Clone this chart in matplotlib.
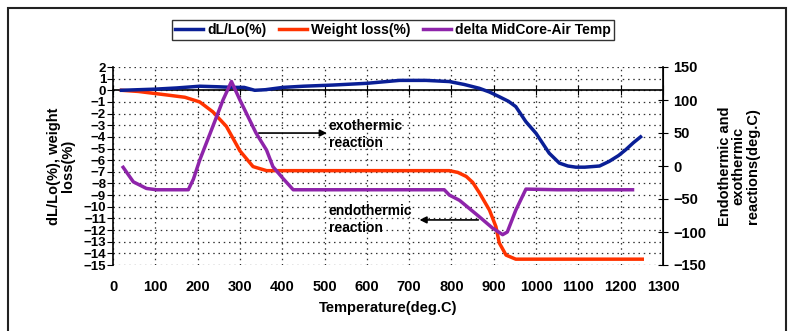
import matplotlib
matplotlib.use("Agg")
import matplotlib.pyplot as plt
from matplotlib.patches import Rectangle

plt.rcParams['font.family'] = ['Liberation Sans', 'DejaVu Sans']
plt.rcParams['font.weight'] = 'bold'

# dL/Lo (%) - left axis
dl_temp = [20, 60, 100, 150, 205, 250, 284, 310, 335, 360, 402, 450, 520, 600, 677, 740, 795, 830, 866, 890,
           913, 935, 952, 976, 1000, 1031, 1055, 1075, 1094, 1115, 1133, 1150, 1173, 1195, 1212, 1230, 1247]
dl_val = [0.0, 0.05, 0.1, 0.2, 0.35, 0.3, 0.25, 0.25, 0.0, 0.05, 0.25, 0.35, 0.45, 0.6, 0.85, 0.85, 0.75, 0.5, 0.17, -0.15,
          -0.55, -0.95, -1.4, -2.7, -3.7, -5.4, -6.25, -6.5, -6.6, -6.6, -6.55, -6.5, -6.1, -5.6, -5.1, -4.5, -4.0]

# Weight loss (%) - left axis
wl_temp = [20, 60, 127, 170, 205, 236, 268, 300, 331, 363, 400, 500, 600, 700, 795, 815, 835, 850, 866, 890,
           905, 913, 929, 952, 1000, 1100, 1200, 1251]
wl_val = [0.0, -0.1, -0.4, -0.6, -1.0, -1.85, -3.1, -5.2, -6.55, -6.9, -6.9, -6.9, -6.9, -6.9, -6.9, -7.05, -7.4, -7.9, -8.8, -10.3,
          -11.7, -13.1, -14.15, -14.5, -14.5, -14.5, -14.5, -14.5]

# delta MidCore-Air Temp (deg.C) - right axis
dt_temp = [24, 48, 79, 103, 140, 178, 190, 205, 236, 260, 280, 300, 338, 363, 378, 402, 426, 500, 600, 700, 783,
           795, 819, 866, 897, 921, 932, 952, 976, 1050, 1150, 1228]
dt_val = [-2, -24, -34, -36, -36, -36, -20, 9, 60, 100, 128, 100, 50, 24, -1, -19, -36, -36, -36, -36, -36,
          -44, -52, -77, -94, -104, -100, -67, -35, -36, -36, -36]

x_ticks = list(range(0, 1301, 100))
left_ticks = list(range(-15, 3))
right_ticks = list(range(-150, 151, 50))

fig = plt.figure(figsize=(7.92, 3.31), dpi=100)
ax = fig.add_axes([113/792, 1-265/331, 550/792, 198/331])
ax2 = ax.twinx()

l1, = ax.plot(dl_temp, dl_val, color='#0a1f96', lw=2.5, label='dL/Lo(%)', zorder=4)
l2, = ax.plot(wl_temp, wl_val, color='#ff3300', lw=2.5, label='Weight loss(%)', zorder=3)
l3, = ax2.plot(dt_temp, dt_val, color='#8e24aa', lw=2.5, label='delta MidCore-Air Temp', zorder=3)

ax.set_xlim(0, 1300)
ax.set_ylim(-15, 2)
ax2.set_ylim(-150, 150)
ax.set_xticks(x_ticks)
ax.set_yticks(left_ticks)
ax2.set_yticks(right_ticks)

ax.grid(True, color='#333333', linestyle=(0, (1.2, 3)), linewidth=0.9)
ax.set_axisbelow(True)

ax.spines['top'].set_visible(False)
ax2.spines['top'].set_visible(False)
ax2.spines['bottom'].set_visible(False)
ax2.spines['left'].set_visible(False)
ax.spines['bottom'].set_position(('data', 0))
ax.spines['bottom'].set_linewidth(1.2)
ax.spines['left'].set_linewidth(1.2)
ax2.spines['right'].set_linewidth(1.2)

ax.tick_params(axis='x', direction='inout', length=7, labelbottom=False)
ax.tick_params(axis='y', direction='out', length=4, labelsize=9.5, pad=1)
ax2.tick_params(axis='y', direction='inout', length=7, labelsize=10.5, pad=4)
for lbl in ax.get_yticklabels() + ax2.get_yticklabels():
    lbl.set_fontweight('bold')

sec = ax.secondary_xaxis('bottom')
sec.set_xticks(x_ticks)
sec.spines['bottom'].set_visible(False)
sec.tick_params(axis='x', length=0, pad=11, labelsize=10.5)
for lbl in sec.get_xticklabels():
    lbl.set_fontweight('bold')
sec.set_xlabel('Temperature(deg.C)', fontsize=10.5, fontweight='bold', labelpad=5)

ax.set_ylabel('dL/Lo(%), weight\nloss(%)', fontsize=10.5, fontweight='bold', labelpad=6, linespacing=1.0)
ax2.set_ylabel('Endothermic and\nexothermic\nreactions(deg.C)', fontsize=10.5, fontweight='bold',
               labelpad=8, linespacing=1.0)

# annotations
ax.text(510, -3.8, 'exothermic\nreaction', fontsize=10, fontweight='bold', va='center', ha='left', linespacing=1.2)
ax.annotate('', xy=(512, -3.67), xytext=(338, -3.67),
            arrowprops=dict(arrowstyle='-|>', color='black', lw=1.2, mutation_scale=10))
ax.text(510, -11.1, 'endothermic\nreaction', fontsize=10, fontweight='bold', va='center', ha='left', linespacing=1.2)
ax.annotate('', xy=(718, -11.13), xytext=(870, -11.13),
            arrowprops=dict(arrowstyle='-|>', color='black', lw=1.2, mutation_scale=10))

leg = fig.legend(handles=[l1, l2, l3], loc='center', bbox_to_anchor=(393/792, 1-30/331), ncol=3,
                 frameon=True, fancybox=False, edgecolor='black', handlelength=2.0,
                 handletextpad=0.3, columnspacing=0.9, borderpad=0.25, prop={'weight': 'bold', 'size': 10})
leg.get_frame().set_linewidth(1.0)

fig.patches.append(Rectangle((8/792, -0.05), (786-8)/792, 1.05-8/331, transform=fig.transFigure,
                             fill=False, edgecolor='#222222', linewidth=1.5))

fig.savefig('out.png', dpi=100)
